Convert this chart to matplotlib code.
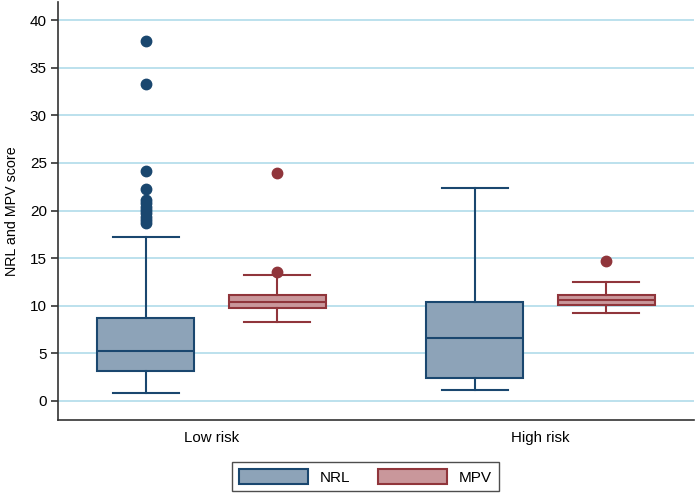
import matplotlib
matplotlib.use("Agg")
import matplotlib.pyplot as plt
from matplotlib.patches import Patch

plt.rcParams['font.family'] = ['Liberation Sans', 'DejaVu Sans']

categories = ["Low risk", "High risk"]
series = ["NRL", "MPV"]

# five-number summaries: whislo, q1, med, q3, whishi
nrl_low = [0.8, 3.1, 5.2, 8.7, 17.2]
nrl_low_out = [37.8, 33.3, 24.2, 22.3, 21.1, 20.8, 20.4, 20.1, 19.7, 19.3, 19.0, 18.7]
mpv_low = [8.3, 9.8, 10.4, 11.1, 13.2]
mpv_low_out = [23.9, 13.5]
nrl_high = [1.2, 2.4, 6.6, 10.4, 22.4]
nrl_high_out = []
mpv_high = [9.2, 10.1, 10.6, 11.1, 12.5]
mpv_high_out = [14.7]

yticks = [0, 5, 10, 15, 20, 25, 30, 35, 40]

colors = {"NRL": ("#8DA3B8", "#1A476F"), "MPV": ("#C9979B", "#90353B")}

def stats(v, out):
    return dict(whislo=v[0], q1=v[1], med=v[2], q3=v[3], whishi=v[4], fliers=out)

data = {
    ("Low risk", "NRL"): stats(nrl_low, nrl_low_out),
    ("Low risk", "MPV"): stats(mpv_low, mpv_low_out),
    ("High risk", "NRL"): stats(nrl_high, nrl_high_out),
    ("High risk", "MPV"): stats(mpv_high, mpv_high_out),
}

fig = plt.figure(figsize=(6.96, 4.96), dpi=100)
ax = fig.add_axes([0.0833, 0.1532, 0.9137, 0.8428])

offset = {"NRL": -0.2, "MPV": 0.2}
for gi, cat in enumerate(categories):
    for s in series:
        fill, edge = colors[s]
        ax.bxp([data[(cat, s)]], positions=[gi + offset[s]], widths=0.295,
               capwidths=0.2, patch_artist=True, showfliers=True,
               boxprops=dict(facecolor=fill, edgecolor=edge, linewidth=1.5),
               medianprops=dict(color=edge, linewidth=1.5),
               whiskerprops=dict(color=edge, linewidth=1.5),
               capprops=dict(color=edge, linewidth=1.5),
               flierprops=dict(marker='o', markerfacecolor=edge, markeredgecolor=edge,
                               markersize=7.5, linestyle='none'),
               zorder=3)

ax.set_xlim(-0.4667, 1.4667)
ax.set_ylim(-2.0, 41.9)
ax.set_yticks(yticks)
ax.set_yticklabels([str(t) for t in yticks], fontsize=11)
ax.set_xticks([0, 1])
ax.set_xticklabels(categories, fontsize=10.8)
ax.tick_params(axis='x', length=0, pad=8)
ax.tick_params(axis='y', length=5, color='#333333', width=1.2, pad=3)
ax.grid(axis='y', color='#B0DCEA', linewidth=1.2, zorder=0)
ax.set_axisbelow(True)
for sp in ['top', 'right']:
    ax.spines[sp].set_visible(False)
for sp in ['left', 'bottom']:
    ax.spines[sp].set_color('#333333')
    ax.spines[sp].set_linewidth(1.2)
ax.set_ylabel("NRL and MPV score", fontsize=10.3, labelpad=8)

handles = [Patch(facecolor=colors[s][0], edgecolor=colors[s][1], linewidth=1.5, label=s)
           for s in series]
leg = fig.legend(handles=handles, loc='center', bbox_to_anchor=(0.525, 0.039),
                 ncol=2, frameon=True, fancybox=False, edgecolor='#222222',
                 fontsize=11, handlelength=4.5, handleheight=1.15,
                 columnspacing=1.8, handletextpad=0.8, borderpad=0.45,
                 borderaxespad=0)
leg.get_frame().set_linewidth(1.0)

fig.savefig("out.png", dpi=100, facecolor='white')
